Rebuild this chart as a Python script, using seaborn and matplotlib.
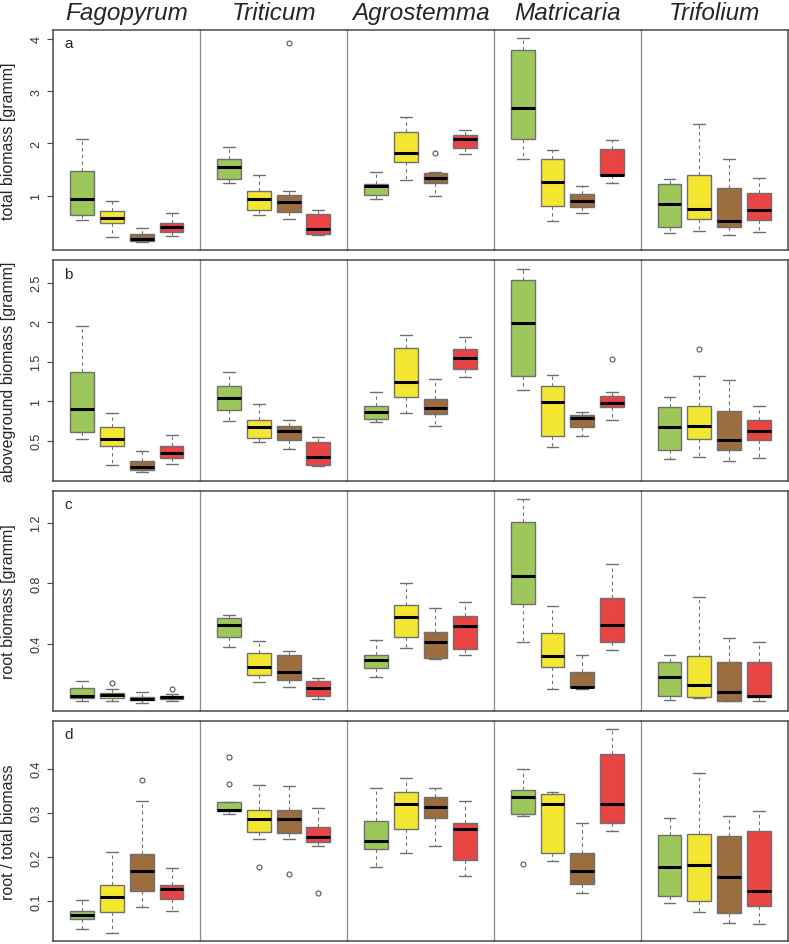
import pandas as pd
import matplotlib
matplotlib.use('Agg')
import matplotlib.pyplot as plt
import matplotlib.ticker as mticker
import seaborn as sns

species = ['Fagopyrum', 'Triticum', 'Agrostemma', 'Matricaria', 'Trifolium']
treatments = ['1', '2', '3', '4']
colors = ['#9dc75a', '#f4e731', '#9b6d3e', '#e84444']
panel_letters = ['a', 'b', 'c', 'd']
ylabels = ['total biomass [gramm]', 'aboveground biomass [gramm]',
           'root biomass [gramm]', 'root / total biomass']
yticks = [[1, 2, 3, 4], [0.5, 1, 1.5, 2, 2.5], [0.4, 0.8, 1.2], [0.1, 0.2, 0.3, 0.4]]

# box stats: (whisker low, q1, median, q3, whisker high)
total = {
    'Fagopyrum': [(0.53, 0.63, 0.94, 1.47, 2.09), (0.21, 0.47, 0.58, 0.71, 0.90),
                  (0.11, 0.13, 0.17, 0.26, 0.39), (0.22, 0.30, 0.40, 0.475, 0.66)],
    'Triticum': [(1.24, 1.31, 1.55, 1.71, 1.94), (0.63, 0.73, 0.93, 1.08, 1.39),
                 (0.56, 0.69, 0.87, 1.01, 1.08), (0.24, 0.26, 0.37, 0.65, 0.73)],
    'Agrostemma': [(0.93, 1.02, 1.19, 1.22, 1.45), (1.30, 1.64, 1.81, 2.22, 2.50),
                   (0.99, 1.24, 1.33, 1.44, 1.46), (1.80, 1.92, 2.08, 2.16, 2.26)],
    'Matricaria': [(1.71, 2.09, 2.67, 3.78, 4.01), (0.51, 0.81, 1.26, 1.70, 1.87),
                   (0.67, 0.78, 0.90, 1.04, 1.18), (1.25, 1.39, 1.40, 1.89, 2.06)],
    'Trifolium': [(0.29, 0.40, 0.85, 1.23, 1.31), (0.33, 0.55, 0.74, 1.39, 2.38),
                  (0.25, 0.40, 0.52, 1.15, 1.70), (0.31, 0.54, 0.72, 1.05, 1.33)],
}
above = {
    'Fagopyrum': [(0.52, 0.61, 0.90, 1.37, 1.96), (0.19, 0.44, 0.52, 0.67, 0.85),
                  (0.10, 0.13, 0.17, 0.24, 0.37), (0.21, 0.28, 0.35, 0.44, 0.58)],
    'Triticum': [(0.75, 0.89, 1.04, 1.19, 1.37), (0.48, 0.54, 0.67, 0.76, 0.97),
                 (0.40, 0.51, 0.63, 0.69, 0.76), (0.18, 0.20, 0.29, 0.49, 0.55)],
    'Agrostemma': [(0.74, 0.78, 0.87, 0.94, 1.12), (0.85, 1.06, 1.24, 1.67, 1.84),
                   (0.69, 0.84, 0.92, 1.03, 1.28), (1.31, 1.41, 1.55, 1.66, 1.81)],
    'Matricaria': [(1.14, 1.32, 1.99, 2.54, 2.68), (0.42, 0.56, 0.99, 1.19, 1.33),
                   (0.56, 0.68, 0.79, 0.83, 0.86), (0.76, 0.93, 0.98, 1.07, 1.12)],
    'Trifolium': [(0.27, 0.38, 0.68, 0.93, 1.06), (0.30, 0.52, 0.69, 0.94, 1.32),
                  (0.25, 0.39, 0.51, 0.88, 1.27), (0.28, 0.51, 0.63, 0.77, 0.94)],
}
root = {
    'Fagopyrum': [(0.020, 0.041, 0.057, 0.107, 0.156), (0.020, 0.044, 0.059, 0.072, 0.099),
                  (0.011, 0.026, 0.037, 0.050, 0.084), (0.024, 0.037, 0.048, 0.057, 0.070)],
    'Triticum': [(0.382, 0.448, 0.525, 0.567, 0.589), (0.145, 0.191, 0.250, 0.338, 0.417),
                 (0.112, 0.163, 0.213, 0.327, 0.354), (0.033, 0.053, 0.107, 0.156, 0.173)],
    'Agrostemma': [(0.178, 0.242, 0.290, 0.327, 0.426), (0.371, 0.448, 0.575, 0.657, 0.800),
                   (0.300, 0.303, 0.413, 0.479, 0.639), (0.327, 0.367, 0.520, 0.585, 0.677)],
    'Matricaria': [(0.409, 0.664, 0.848, 1.204, 1.356), (0.100, 0.248, 0.318, 0.468, 0.648),
                   (0.103, 0.112, 0.118, 0.217, 0.327), (0.356, 0.409, 0.525, 0.703, 0.925)],
    'Trifolium': [(0.026, 0.057, 0.182, 0.277, 0.327), (0.039, 0.050, 0.127, 0.321, 0.707),
                  (0.020, 0.024, 0.079, 0.279, 0.440), (0.020, 0.048, 0.057, 0.279, 0.409)],
}
ratio = {
    'Fagopyrum': [(0.035, 0.058, 0.067, 0.077, 0.103), (0.027, 0.075, 0.108, 0.137, 0.212),
                  (0.085, 0.122, 0.168, 0.207, 0.326), (0.078, 0.105, 0.127, 0.135, 0.175)],
    'Triticum': [(0.298, 0.303, 0.307, 0.324, 0.324), (0.241, 0.256, 0.287, 0.307, 0.363),
                 (0.240, 0.255, 0.285, 0.306, 0.362), (0.225, 0.234, 0.245, 0.267, 0.312)],
    'Agrostemma': [(0.176, 0.217, 0.236, 0.281, 0.357), (0.208, 0.264, 0.321, 0.347, 0.379),
                   (0.225, 0.288, 0.313, 0.336, 0.357), (0.156, 0.192, 0.263, 0.278, 0.327)],
    'Matricaria': [(0.293, 0.297, 0.336, 0.352, 0.399), (0.191, 0.209, 0.321, 0.343, 0.347),
                   (0.119, 0.138, 0.168, 0.209, 0.277), (0.258, 0.276, 0.321, 0.434, 0.490)],
    'Trifolium': [(0.095, 0.111, 0.176, 0.249, 0.289), (0.074, 0.099, 0.182, 0.251, 0.390),
                  (0.050, 0.073, 0.155, 0.247, 0.292), (0.047, 0.089, 0.122, 0.258, 0.305)],
}

# outliers: (species, treatment index) -> values
total_out = {('Triticum', 2): [3.92], ('Agrostemma', 2): [1.81]}
above_out = {('Matricaria', 3): [1.54], ('Trifolium', 1): [1.66]}
root_out = {('Fagopyrum', 1): [0.14], ('Fagopyrum', 3): [0.099]}
ratio_out = {('Fagopyrum', 2): [0.375], ('Triticum', 0): [0.366, 0.427],
             ('Triticum', 1): [0.176], ('Triticum', 2): [0.161],
             ('Triticum', 3): [0.119], ('Matricaria', 0): [0.183]}

panels = [(total, total_out), (above, above_out), (root, root_out), (ratio, ratio_out)]


def sample_from_stats(st, outs):
    # rebuild a small sample whose quartiles / whiskers equal the read stats
    lo, q1, med, q3, hi = st
    low = sorted(v for v in outs if v < q1) + [lo]
    high = [hi] + sorted(v for v in outs if v > q3)
    k = max(len(low), len(high))
    low = low + [q1] * (k - len(low))
    high = [q3] * (k - len(high)) + high
    return low + [q1] + [q1] * (k - 1) + [med] + [q3] * (k - 1) + [q3] + high


rows = []
for p, (stats, outs) in enumerate(panels):
    for sp in species:
        for t, st in enumerate(stats[sp]):
            for v in sample_from_stats(st, outs.get((sp, t), [])):
                rows.append((p, sp, treatments[t], v))
df = pd.DataFrame(rows, columns=['panel', 'species', 'treatment', 'value'])

sns.set_style('white')
plt.rcParams['font.family'] = ['Liberation Sans', 'DejaVu Sans']

fig, axes = plt.subplots(4, 5, figsize=(7.89, 9.45), dpi=100, sharey='row')
fig.subplots_adjust(left=0.0676, right=0.9984, top=0.967, bottom=0.003, wspace=0, hspace=0.046)

for r in range(4):
    pdat = df[df.panel == r]
    vmin, vmax = pdat.value.min(), pdat.value.max()
    pad = 0.04 * (vmax - vmin)
    for c, sp in enumerate(species):
        ax = axes[r, c]
        sub = pdat[pdat.species == sp]
        sns.boxplot(data=sub, x='treatment', y='value', hue='treatment',
                    order=treatments, hue_order=treatments, palette=colors,
                    legend=False, dodge=False, saturation=1, width=0.8, whis=1.5,
                    linecolor='#707070', linewidth=1.0, fliersize=3.6,
                    flierprops=dict(marker='o', markerfacecolor='none',
                                    markeredgecolor='#555555', markeredgewidth=0.8),
                    medianprops=dict(color='black', linewidth=2.2),
                    whiskerprops=dict(linestyle=(0, (3, 3)), linewidth=0.8),
                    ax=ax)
        ax.set_xlim(-0.96, 3.96)
        ax.set_ylim(vmin - pad, vmax + pad)
        ax.set_xticks([])
        ax.set_xlabel('')
        ax.set_ylabel('')
        for s in ax.spines.values():
            s.set_color('#4a4a4a')
            s.set_linewidth(1.1)
        if c > 0:
            ax.spines['left'].set_color('#8a8a8a')
            ax.spines['left'].set_linewidth(0.9)
            ax.tick_params(left=False, labelleft=False)
        if c < 4:
            ax.spines['right'].set_visible(False)
        if r == 0:
            ax.set_title(sp, fontsize=17.5, style='italic', pad=8)

    ax0 = axes[r, 0]
    ax0.set_yticks(yticks[r])
    ax0.yaxis.set_major_formatter(mticker.FormatStrFormatter('%g'))
    ax0.tick_params(axis='y', left=True, labelleft=True, length=4, width=0.8,
                    color='#4a4a4a', pad=4, labelsize=9, labelcolor='#333333')
    for lab in ax0.get_yticklabels():
        lab.set_rotation(90)
        lab.set_va('center')
    ax0.set_ylabel(ylabels[r], fontsize=11.5)
    ax0.yaxis.set_label_coords(-0.255, 0.5)
    ax0.annotate(panel_letters[r], xy=(0, 1), xycoords='axes fraction',
                 xytext=(7.7, -9.4), textcoords='offset points',
                 ha='left', va='center', fontsize=11)

fig.savefig('out.png', dpi=100)
